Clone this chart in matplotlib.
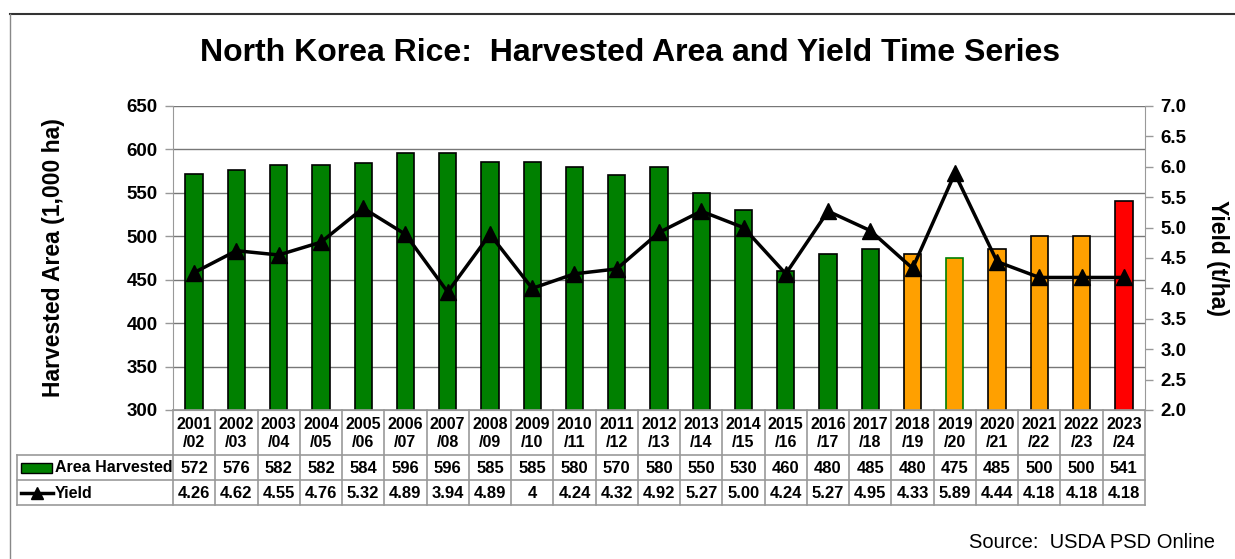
import matplotlib.pyplot as plt
from matplotlib.patches import Rectangle
from matplotlib.lines import Line2D

plt.rcParams['font.family'] = ['Liberation Sans', 'DejaVu Sans']

years = ["2001\n/02", "2002\n/03", "2003\n/04", "2004\n/05", "2005\n/06", "2006\n/07",
         "2007\n/08", "2008\n/09", "2009\n/10", "2010\n/11", "2011\n/12", "2012\n/13",
         "2013\n/14", "2014\n/15", "2015\n/16", "2016\n/17", "2017\n/18", "2018\n/19",
         "2019\n/20", "2020\n/21", "2021\n/22", "2022\n/23", "2023\n/24"]
area = [572, 576, 582, 582, 584, 596, 596, 585, 585, 580, 570, 580,
        550, 530, 460, 480, 485, 480, 475, 485, 500, 500, 541]
yield_vals = [4.26, 4.62, 4.55, 4.76, 5.32, 4.89, 3.94, 4.89, 4.00, 4.24, 4.32, 4.92,
              5.27, 5.00, 4.24, 5.27, 4.95, 4.33, 5.89, 4.44, 4.18, 4.18, 4.18]
yield_labels = ["4.26", "4.62", "4.55", "4.76", "5.32", "4.89", "3.94", "4.89", "4",
                "4.24", "4.32", "4.92", "5.27", "5.00", "4.24", "5.27", "4.95", "4.33",
                "5.89", "4.44", "4.18", "4.18", "4.18"]

green = "#008000"
orange = "#FFA000"
red = "#FF0000"
colors = [green] * 17 + [orange] * 5 + [red]
edges = ["black"] * 18 + [green] + ["black"] * 4

W, H = 1235, 559
fig = plt.figure(figsize=(W / 100, H / 100), dpi=100)
L, R, T, B = 173, 1145, 106, 410
ax = fig.add_axes([L / W, 1 - B / H, (R - L) / W, (B - T) / H])

n = len(area)
x = list(range(n))
ax.bar(x, area, width=0.41, color=colors, edgecolor=edges, linewidth=1.2, zorder=2)
ax.set_xlim(-0.5, n - 0.5)
ax.set_ylim(300, 650)
ax.set_yticks(range(300, 651, 50))
ax.yaxis.grid(True, color="#777777", linewidth=1)
ax.set_axisbelow(True)
ax.set_xticks([])
for s in ["top", "right"]:
    ax.spines[s].set_visible(False)
ax.spines["left"].set_color("#999999")
ax.spines["bottom"].set_color("#999999")
ax.tick_params(axis="y", labelsize=13.5, color="#999999", length=6, width=1, pad=5)
for lab in ax.get_yticklabels():
    lab.set_fontweight("bold")
ax.set_ylabel("Harvested Area (1,000 ha)", fontsize=16.5, fontweight="bold", labelpad=44)

ax2 = ax.twinx()
ax2.plot(x, yield_vals, color="black", linewidth=2.5, marker="^", markersize=11.5, zorder=3)
ax2.set_ylim(2.0, 7.0)
ax2.set_yticks([2.0 + 0.5 * i for i in range(11)])
ax2.set_yticklabels([f"{2.0 + 0.5 * i:.1f}" for i in range(11)])
for s in ["top", "left", "bottom"]:
    ax2.spines[s].set_visible(False)
ax2.spines["right"].set_color("#999999")
ax2.tick_params(axis="y", labelsize=13.5, color="#999999", length=6, width=1, pad=5)
for lab in ax2.get_yticklabels():
    lab.set_fontweight("bold")
ax2.set_ylabel("Yield (t/ha)", fontsize=16.5, fontweight="bold", rotation=270, labelpad=31)

fig.text(630 / W, 1 - 53 / H, "North Korea Rice:  Harvested Area and Yield Time Series",
         ha="center", va="center", fontsize=23, fontweight="bold")

# data table below the chart, in pixel coordinates
def px(xp, yp):
    return xp / W, 1 - yp / H

grid_c = "#999999"
col_w = (R - L) / n
rows = [B, 455, 480, 505]
LEFT = 17

def hline(y, x0, x1):
    fig.add_artist(Line2D([x0 / W, x1 / W], [1 - y / H, 1 - y / H], color=grid_c, lw=1.2))

def vline(xp, y0, y1):
    fig.add_artist(Line2D([xp / W, xp / W], [1 - y0 / H, 1 - y1 / H], color=grid_c, lw=1.2))

hline(rows[0], L, R)
for y in rows[1:]:
    hline(y, LEFT, R)
for i in range(n + 1):
    vline(L + i * col_w, rows[0], rows[3])
vline(LEFT, rows[1], rows[3])

for i in range(n):
    cx = L + (i + 0.5) * col_w
    fig.text(*px(cx, (rows[0] + rows[1]) / 2 + 1), years[i], ha="center", va="center",
             fontsize=11.5, fontweight="bold", linespacing=1.25)
    fig.text(*px(cx, (rows[1] + rows[2]) / 2 + 1), str(area[i]), ha="center", va="center",
             fontsize=12, fontweight="bold")
    fig.text(*px(cx, (rows[2] + rows[3]) / 2 + 1), yield_labels[i], ha="center", va="center",
             fontsize=12, fontweight="bold")

# legend keys in the table
x0, y0 = px(21, 473)
fig.add_artist(Rectangle((x0, y0), 31 / W, 10 / H, facecolor=green, edgecolor="black", lw=1))
fig.text(*px(55, 468), "Area Harvested", ha="left", va="center", fontsize=11.5, fontweight="bold")
yl = 1 - 493 / H
fig.add_artist(Line2D([21 / W, 53 / W], [yl, yl], color="black", lw=2.5))
fig.add_artist(Line2D([37 / W], [yl], color="black", marker="^", markersize=8, lw=0))
fig.text(*px(55, 493), "Yield", ha="left", va="center", fontsize=11.5, fontweight="bold")

fig.text(*px(1215, 543), "Source:  USDA PSD Online", ha="right", va="center", fontsize=14.5)

# outer frame lines
fig.add_artist(Line2D([10 / W, 1], [1 - 14 / H, 1 - 14 / H], color="#333333", lw=1.5))
fig.add_artist(Line2D([10 / W, 10 / W], [1 - 14 / H, 0], color="#888888", lw=1))

fig.savefig("out.png", dpi=100)
